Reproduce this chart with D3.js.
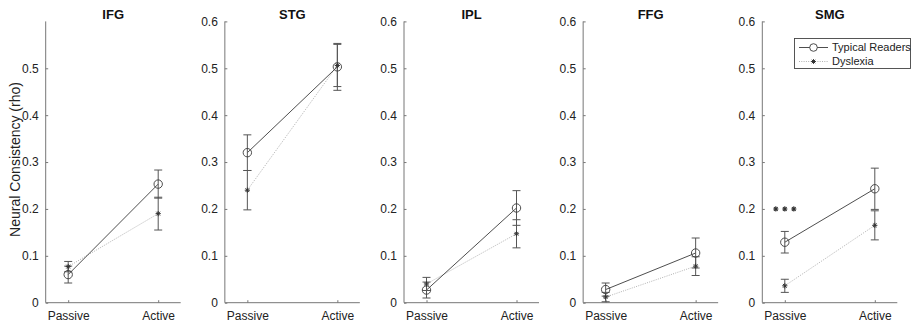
<!DOCTYPE html>
<html>
<head>
<meta charset="utf-8">
<script src="https://cdn.jsdelivr.net/npm/d3@7"></script>
<style>
  body { margin: 0; background: #fff; }
  svg { display: block; font-family: "Liberation Sans", Arial, Helvetica, sans-serif; }
</style>
</head>
<body>
<svg id="chart" width="917" height="326"></svg>
<script>
// ---- data ----
const regions = ["IFG", "STG", "IPL", "FFG", "SMG"];
const conditions = ["Passive", "Active"];
const seriesNames = ["Typical Readers", "Dyslexia"];
// means [Passive, Active] per region
const typicalMean = [[0.060, 0.253], [0.320, 0.503], [0.027, 0.202], [0.028, 0.106], [0.129, 0.243]];
const typicalErr  = [[0.018, 0.030], [0.038, 0.050], [0.017, 0.037], [0.014, 0.032], [0.023, 0.044]];
const dyslexiaMean = [[0.077, 0.190], [0.240, 0.506], [0.040, 0.147], [0.012, 0.078], [0.036, 0.165]];
const dyslexiaErr  = [[0.011, 0.035], [0.042, 0.045], [0.014, 0.030], [0.010, 0.020], [0.014, 0.031]];
const yTicks = [0, 0.1, 0.2, 0.3, 0.4, 0.5, 0.6];
const yTicksIFG = [0, 0.1, 0.2, 0.3, 0.4, 0.5];
// significance marker (region index, x positions, y)
const sigRegion = 4;
const sigX = [0.9, 1.0, 1.1];
const sigY = 0.2;

// ---- layout ----
const FONT = '"Liberation Sans", Arial, Helvetica, sans-serif';
const svg = d3.select("#chart");
const axLeft0 = 45.7, axStep = 179.15, axW = 135;
const y = d3.scaleLinear().domain([0, 0.6]).range([302.7, 21.4]);
const axisColor = "#777";
const darkColor = "#3a3a3a";

function asteriskPath(cx, cy, s) {
  const d = s * 0.72;
  return `M${cx - s},${cy}L${cx + s},${cy}M${cx},${cy - s}L${cx},${cy + s}` +
         `M${cx - d},${cy - d}L${cx + d},${cy + d}M${cx - d},${cy + d}L${cx + d},${cy - d}`;
}

regions.forEach((reg, i) => {
  const left = axLeft0 + i * axStep;
  const x = d3.scaleLinear().domain([0.75, 2.25]).range([left, left + axW]);
  const g = svg.append("g");

  // axes
  const ticks = i === 0 ? yTicksIFG : yTicks;
  const yAxis = d3.axisLeft(y).tickValues(ticks).tickSize(-2.5).tickPadding(7)
    .tickFormat(d => d === 0 ? "0" : d3.format(".1f")(d));
  const ya = g.append("g").attr("transform", `translate(${left},0)`).call(yAxis);
  const xAxis = d3.axisBottom(x).tickValues([1, 2]).tickSize(-2.5).tickPadding(9)
    .tickFormat((d, k) => conditions[k]);
  const xa = g.append("g").attr("transform", `translate(0,${y(0)})`).call(xAxis);
  [ya, xa].forEach(a => {
    a.attr("font-family", FONT).attr("font-size", 12);
    a.select(".domain").attr("stroke", axisColor).attr("stroke-width", 1)
      .attr("d", a === ya ? `M0,${y(0.6)}V${y(0)}` : `M${left},0H${left + axW}`);
    a.selectAll(".tick line").attr("stroke", axisColor);
    a.selectAll(".tick text").attr("fill", "#222");
  });
  xa.selectAll(".tick text").attr("dy", "0.71em");

  // title
  g.append("text").attr("x", (x(1) + x(2)) / 2 + 0).attr("y", 18.5)
    .attr("text-anchor", "middle").attr("font-weight", "bold").attr("font-size", 13)
    .attr("font-family", FONT).attr("fill", "#111").text(reg);

  const xs = [1, 2];
  // dyslexia line (dotted)
  g.append("path")
    .attr("d", d3.line()(xs.map((xv, k) => [x(xv), y(dyslexiaMean[i][k])])))
    .attr("fill", "none").attr("stroke", "#a8a8a8").attr("stroke-width", 0.9)
    .attr("stroke-dasharray", "1,1.3");
  // typical line (solid)
  g.append("path")
    .attr("d", d3.line()(xs.map((xv, k) => [x(xv), y(typicalMean[i][k])])))
    .attr("fill", "none").attr("stroke", darkColor).attr("stroke-width", 0.9);

  // error bars
  const eb = (m, e) => xs.forEach((xv, k) => {
    const cx = x(xv), lo = y(m[i][k] - e[i][k]), hi = y(m[i][k] + e[i][k]);
    g.append("path")
      .attr("d", `M${cx},${lo}V${hi}M${cx - 4},${lo}H${cx + 4}M${cx - 4},${hi}H${cx + 4}`)
      .attr("fill", "none").attr("stroke", "#555").attr("stroke-width", 1);
  });
  eb(dyslexiaMean, dyslexiaErr);
  eb(typicalMean, typicalErr);

  // markers
  xs.forEach((xv, k) => {
    g.append("circle").attr("cx", x(xv)).attr("cy", y(typicalMean[i][k])).attr("r", 4.2)
      .attr("fill", "none").attr("stroke", darkColor).attr("stroke-width", 0.9);
    g.append("path").attr("d", asteriskPath(x(xv), y(dyslexiaMean[i][k]), 2.6))
      .attr("stroke", "#333").attr("stroke-width", 1).attr("fill", "none");
  });

  if (i === sigRegion) {
    sigX.forEach(sx => {
      g.append("path").attr("d", asteriskPath(x(sx), y(sigY), 2.6))
        .attr("stroke", "#333").attr("stroke-width", 1.1).attr("fill", "none");
    });
  }
});

// y label
svg.append("text").attr("transform", `translate(20,159.5) rotate(-90)`)
  .attr("text-anchor", "middle").attr("font-size", 14).attr("font-family", FONT)
  .attr("fill", "#222").text("Neural Consistency (rho)");

// legend
const lg = svg.append("g");
lg.append("rect").attr("x", 794.5).attr("y", 38.5).attr("width", 116).attr("height", 30)
  .attr("fill", "#fff").attr("stroke", "#444").attr("stroke-width", 0.9);
const legY = [47.5, 61.5];
seriesNames.forEach((nm, k) => {
  lg.append("line").attr("x1", 799).attr("x2", 828).attr("y1", legY[k]).attr("y2", legY[k])
    .attr("stroke", k === 0 ? darkColor : "#a8a8a8").attr("stroke-width", 0.9)
    .attr("stroke-dasharray", k === 0 ? null : "1,1.3");
  if (k === 0) {
    lg.append("circle").attr("cx", 813.5).attr("cy", legY[k]).attr("r", 3.8)
      .attr("fill", "#fff").attr("stroke", darkColor).attr("stroke-width", 0.9);
  } else {
    lg.append("path").attr("d", asteriskPath(813.5, legY[k], 2.4))
      .attr("stroke", "#333").attr("stroke-width", 1).attr("fill", "none");
  }
  lg.append("text").attr("x", 832).attr("y", legY[k]).attr("dy", "0.35em")
    .attr("font-size", 11).attr("font-family", FONT).attr("fill", "#222").text(nm);
});
</script>
</body>
</html>
